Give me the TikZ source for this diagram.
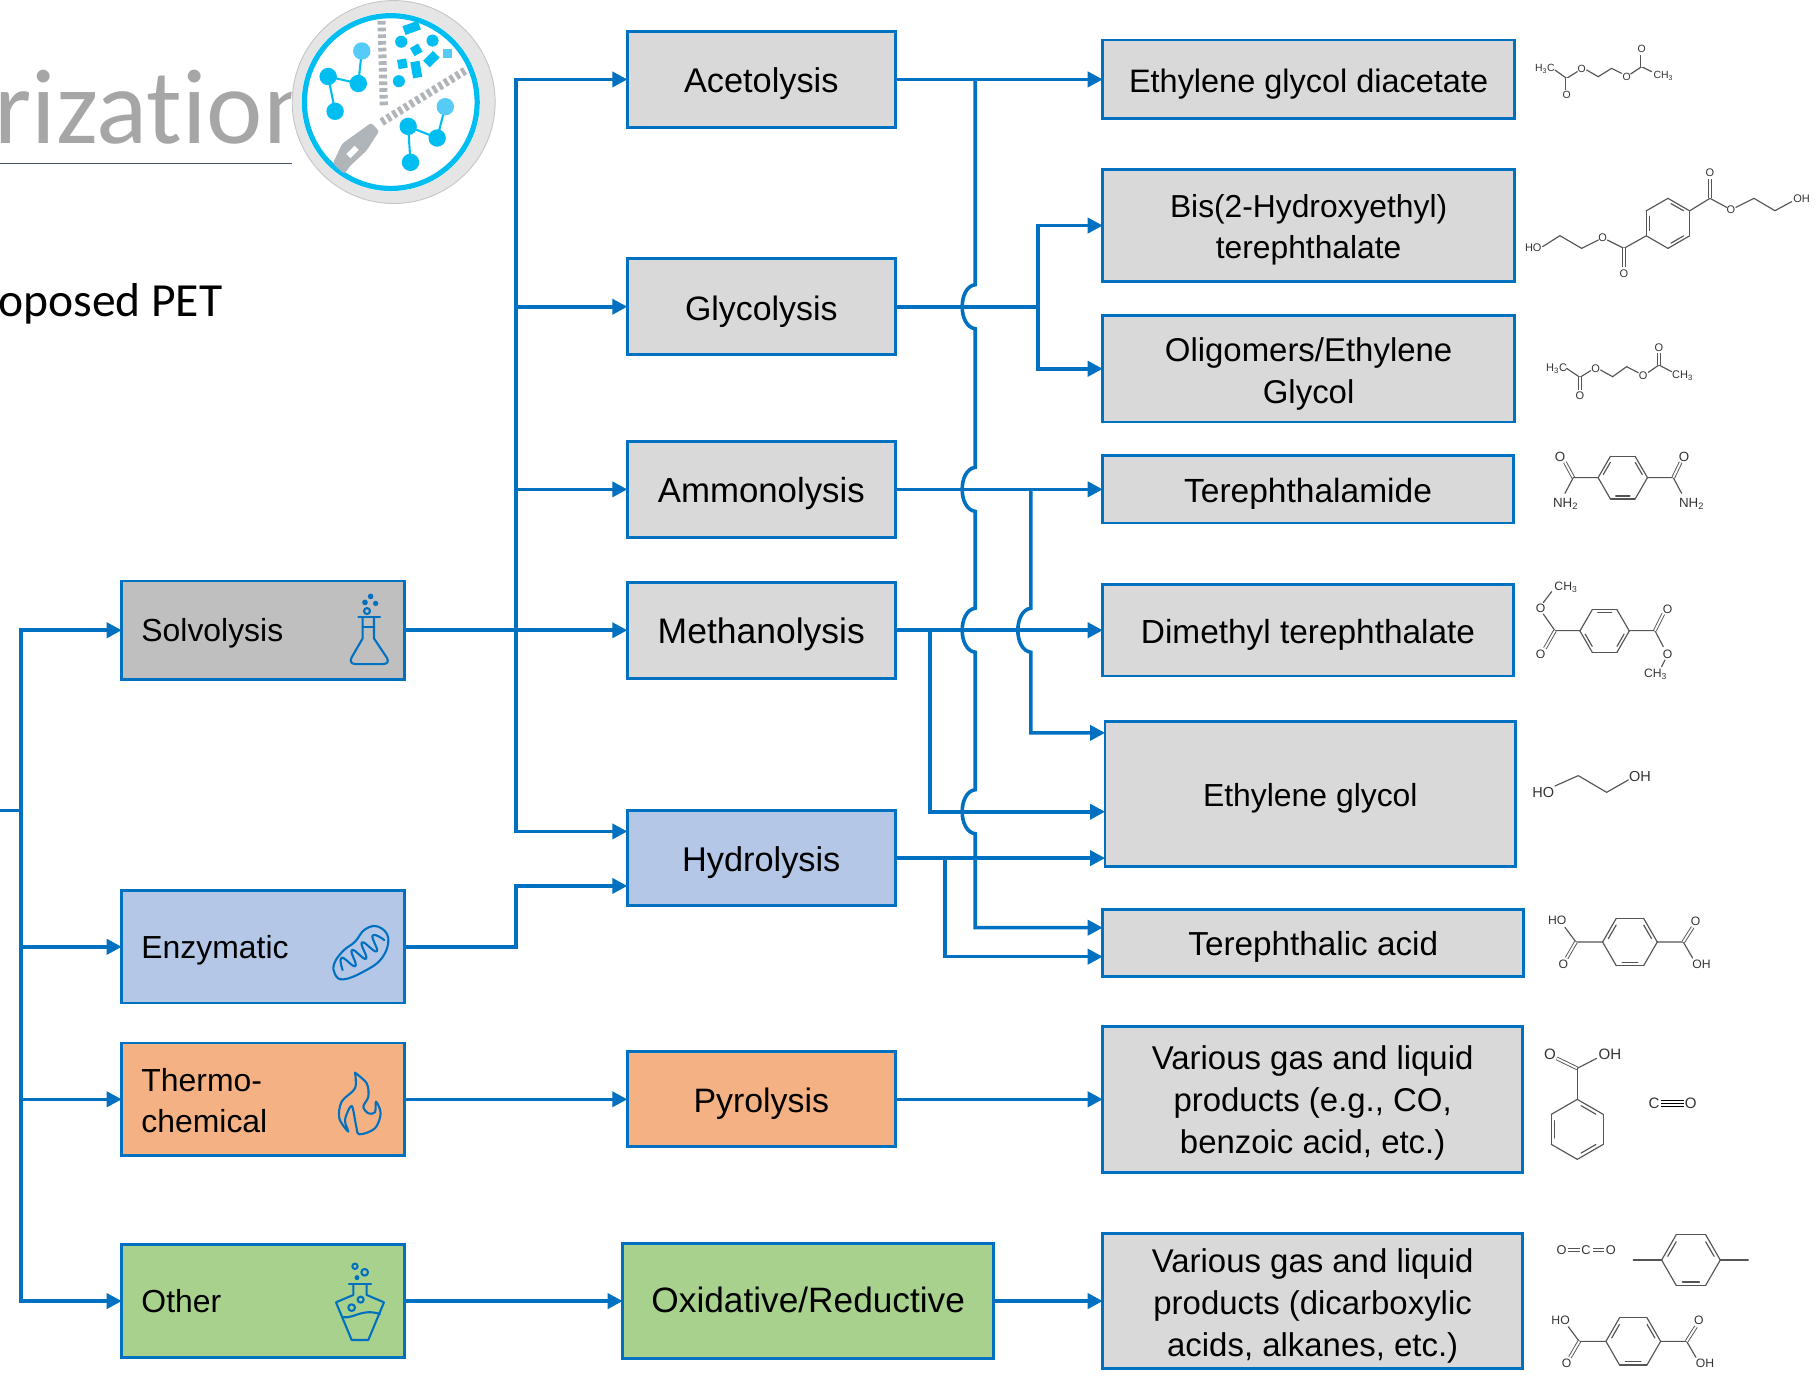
\documentclass[tikz,border=0pt]{standalone}
\usepackage{fontspec}
\setmainfont{Liberation Sans}
\newfontfamily\calibrif{Carlito}
\usetikzlibrary{arrows.meta,calc}
\definecolor{flowblue}{HTML}{0070C0}
\definecolor{boxgray}{HTML}{D9D9D9}
\definecolor{solvgray}{HTML}{BFBFBF}
\definecolor{enzblue}{HTML}{B4C7E7}
\definecolor{thermoor}{HTML}{F4B183}
\definecolor{othergr}{HTML}{A9D18E}
\definecolor{logocyan}{HTML}{00BEF2}
\definecolor{logolight}{HTML}{55CBF5}
\definecolor{zipgray}{HTML}{B0B5BA}
\definecolor{bondgray}{HTML}{555555}
\definecolor{slate}{HTML}{44546A}
\tikzset{
  box/.style={draw=flowblue,line width=2.4pt,fill=boxgray,inner sep=0pt,outer sep=0pt,align=center,
    font=\fontsize{28.4}{36}\selectfont,execute at begin node={\rule{0pt}{28pt}}},
  midbox/.style={box,font=\fontsize{29.6}{36}\selectfont,execute at begin node={\rule{0pt}{29pt}}},
  multibox/.style={box},
  leftbox/.style={draw=flowblue,line width=2.4pt,inner xsep=17pt,inner ysep=0pt,outer sep=0pt,
    text width=210pt,align=left,font=\fontsize{27.5}{36}\selectfont,execute at begin node={\rule{0pt}{25.5pt}}},
  flow/.style={draw=flowblue,line width=3.1pt,-{Triangle[length=13pt,width=13pt]}},
  trunk/.style={draw=flowblue,line width=3.1pt},
  icon/.style={draw=flowblue,line width=1.8pt,line join=round,line cap=round},
  bond/.style={draw=bondgray,line width=1pt,line cap=round},
  dbond/.style={draw=bondgray,line width=.8pt,double=white,double distance=1.6pt},
  chemtxt/.style={inner sep=0pt,outer sep=0pt,text=black!80},
  iconsc/.style={scale=.28746},
}
\newcount\chemcnt
\newcommand{\chem}[4]{\global\advance\chemcnt by 1\relax
  \node[chemtxt,font=\fontsize{#3}{#3}\selectfont] (chem\the\chemcnt) at (#1,#2) {#4};}
\newcommand{\hexring}[4]{%
  \foreach \k in {0,60,...,300}{\draw[bond] ({#1+#3*cos(#4+\k)},{#2+#3*sin(#4+\k)}) -- ({#1+#3*cos(#4+\k+60)},{#2+#3*sin(#4+\k+60)});}
  \foreach \k in {0,120,240}{\draw[bond] ({#1+.8*#3*cos(#4+\k+9)},{#2+.8*#3*sin(#4+\k+9)}) -- ({#1+.8*#3*cos(#4+\k+51)},{#2+.8*#3*sin(#4+\k+51)});}}
\newcommand{\hopat}[3]{-- (#1,#2-19) .. controls (#1-#3,#2-17) and (#1-#3,#2+17) .. (#1,#2+19)}
\newcommand{\tpa}[2]{%
  \begin{scope}[shift={(#1,#2)}]
    \chem{172}{122}{10.5}{HO}\chem{190}{252}{10.5}{O}\chem{587}{124}{10.5}{O}\chem{605}{253}{10.5}{OH}
    \draw[bond] (195,142) -- (228,186) -- (308,186);
    \draw[dbond] (228,186) -- (200,234);
    \hexring{390}{186}{82}{60}
    \draw[bond] (472,186) -- (550,186) -- (578,234);
    \draw[dbond] (550,186) -- (578,142);
  \end{scope}}
\begin{document}
\begin{tikzpicture}[x=1pt,y=-1pt]
\path[use as bounding box] (0,0) rectangle (1567.8,1186.6);
% heading
\node[inner sep=0pt,anchor=base west,text=black!35,font=\calibrif\fontsize{92}{92}\selectfont] (title) at (-5,124) {rizat\kern0pt ion};
\coordinate (ulA) at (0,141);\coordinate (ulB) at (252,141);
\draw[draw=slate,line width=1.7pt] (ulA) -- (ulB);
\node[inner sep=0pt,anchor=base east,font=\calibrif\fontsize{41}{41}\selectfont] (sub) at (192,273) {oposed PET};
% logo
\fill[white] (339,88) circle (88);
\draw[draw=black!22,fill=black!10,line width=.8pt] (339.5,88) circle (87.5);
\fill[white] (337,88) circle (77);
\draw[logocyan,line width=4.5pt] (337,88) circle (74.5);
\draw[zipgray,line width=7pt,dash pattern=on 3.2pt off 2.6pt] (329,18) -- (331,92);
\draw[zipgray,line width=7pt,dash pattern=on 3.2pt off 2.6pt] (401,61) -- (328,106);
\fill[zipgray,rounded corners=2pt] (320,106) -- (327,113) -- (316,130) -- (302,143) -- (297,150) -- (287,141) -- (295,124) -- cycle;
\fill[white,rotate around={45:(304,131)}] (299,128.5) rectangle (309,133.5);
\foreach \a/\b in {{(312,44)}/{(309,72)},{(283,66)}/{(309,72)},{(283,66)}/{(289,96)},{(384,92)}/{(377,119)},{(352,109)}/{(377,119)},{(352,109)}/{(354,140)}}{\draw[logocyan,line width=1.8pt] \a -- \b;}
\fill[logolight] (312,44) circle (7.5);
\fill[logocyan] (283,66) circle (7.5) (309,72) circle (7.5) (289,96) circle (7.5);
\fill[logolight] (384,92) circle (7.5);
\fill[logocyan] (352,109) circle (7.5) (377,119) circle (7.5) (354,140) circle (7.5);
\fill[logocyan] (346,36) circle (5.2) (373,35) circle (5.2) (344,70) circle (5.2);
\fill[logocyan,rotate around={20:(355,24)}] (348,20) rectangle (362,28);
\fill[logocyan,rotate around={30:(359,43)}] (355,39) rectangle (363,47);
\fill[logocyan,rotate around={45:(372,51)}] (366,47) rectangle (378,55);
\fill[logolight] (382,42) rectangle (390,50);
\fill[logocyan,rotate around={10:(347,55)}] (343,51) rectangle (351,59);
\fill[logocyan,rotate around={10:(359,60)}] (355,53) rectangle (363,67);
% left column
\node[leftbox,fill=solvgray,minimum height=85pt] (solv) at (227,543.5) {Solvolysis};
\node[leftbox,fill=enzblue,minimum height=97pt] (enz) at (227,816.5) {Enzymatic};
\node[leftbox,fill=thermoor,minimum height=97pt,text height=22pt] (therm) at (227,948) {Thermo-\\chemical};
\node[leftbox,fill=othergr,minimum height=97pt,text depth=5pt] (oth) at (227,1122) {Other};
% middle column
\node[midbox,minimum width=231pt,minimum height=83pt] (acet) at (656.5,68.5) {Acetolysis};
\node[midbox,minimum width=231pt,minimum height=83pt,font=\fontsize{29.2}{36}\selectfont] (glyc) at (656.5,264.5) {Glycolysis};
\node[midbox,minimum width=231pt,minimum height=83pt,font=\fontsize{30}{36}\selectfont] (ammo) at (656.5,422) {Ammonolysis};
\node[midbox,minimum width=231pt,minimum height=83pt,font=\fontsize{30.6}{36}\selectfont] (meth) at (656.5,543.5) {Methanolysis};
\node[midbox,fill=enzblue,minimum width=231pt,minimum height=82pt] (hydr) at (656.5,740) {Hydrolysis};
\node[midbox,fill=thermoor,minimum width=231pt,minimum height=82pt,font=\fontsize{29.2}{36}\selectfont] (pyro) at (656.5,948) {Pyrolysis};
\node[midbox,fill=othergr,minimum width=320pt,minimum height=99pt,font=\fontsize{30.4}{36}\selectfont,execute at begin node={\rule{0pt}{22pt}},text depth=10pt] (oxid) at (697,1122) {Oxidative/Reductive};
% right column
\node[box,minimum width=355pt,minimum height=68pt,font=\fontsize{28}{36}\selectfont] (egda) at (1128.5,68.5) {Ethylene glycol diacetate};
\node[multibox,minimum width=355pt,minimum height=97pt,font=\fontsize{27.4}{36}\selectfont,text height=63pt] (bhet) at (1128.5,194.5) {Bis(2-Hydroxyethyl)\\terephthalate};
\node[multibox,minimum width=355pt,minimum height=92pt,text height=66pt] (olig) at (1128.5,318) {Oligomers/Ethylene\\Glycol};
\node[box,minimum width=354pt,minimum height=58pt,font=\fontsize{28.9}{36}\selectfont] (tpam) at (1128,422) {Terephthalamide};
\node[box,minimum width=354pt,minimum height=79pt,font=\fontsize{28.8}{36}\selectfont] (dmt) at (1128,543.5) {Dimethyl terephthalate};
\node[box,minimum width=354pt,minimum height=125pt,font=\fontsize{27.5}{36}\selectfont] (eg) at (1130,684.5) {Ethylene glycol};
\node[box,minimum width=363pt,minimum height=58pt,font=\fontsize{28.7}{36}\selectfont] (tpa) at (1132.5,813) {Terephthalic acid};
\node[multibox,minimum width=362pt,minimum height=126pt,text height=99pt] (varA) at (1132,948) {Various gas and liquid\\products (e.g., CO,\\benzoic acid, etc.)};
\node[multibox,minimum width=362pt,minimum height=116pt,text height=101pt] (varB) at (1132,1122) {Various gas and liquid\\products (dicarboxylic\\acids, alkanes, etc.)};
% junctions
\coordinate (stubL) at (0,699);
\coordinate (mainT) at (18,699);
\coordinate (busS) at (445,543.5);
\coordinate (busE) at (445,816.5);
\coordinate (hydA) at (541,717);
\coordinate (hydB) at (541,764);
\coordinate (acetBus) at (841,68.5);
\coordinate (glycBus) at (895,264.5);
\coordinate (ammoBus) at (889,422);
\coordinate (methBus) at (802,543.5);
\coordinate (hydrBus) at (815,740);
\coordinate (egA) at (953,632);
\coordinate (egB) at (953,700);
\coordinate (egC) at (953,740);
\coordinate (tpaA) at (951,800);
\coordinate (tpaB) at (951,825);
% trunk on the left
\draw[trunk] (stubL) -- (mainT);
\draw[flow] (mainT) |- (solv.west);
\draw[flow] (mainT) |- (enz.west);
\draw[flow] (mainT) |- (therm.west);
\draw[flow] (mainT) |- (oth.west);
% to middle
\draw[flow] (solv.east) -- (meth.west);
\draw[flow] (busS) |- (acet.west);
\draw[flow] (busS) |- (glyc.west);
\draw[flow] (busS) |- (ammo.west);
\draw[flow] (busS) |- (hydA);
\draw[flow] (enz.east) -- (busE) |- (hydB);
\draw[flow] (therm.east) -- (pyro.west);
\draw[flow] (oth.east) -- (oxid.west);
% to right
\draw[flow] (acet.east) -- (egda.west);
\draw[flow] (glyc.east) -- (glycBus) |- (bhet.west);
\draw[flow] (glycBus) |- (olig.west);
\draw[flow] (ammo.east) -- (tpam.west);
\draw[flow] (meth.east) -- (dmt.west);
\draw[flow] (hydr.east) -- (egC);
\draw[flow] (hydrBus) |- (tpaB);
\draw[flow] (methBus) |- (egB);
\draw[flow] (pyro.east) -- (varA.west);
\draw[flow] (oxid.east) -- (varB.west);
% hopping lines
\draw[flow] (acetBus) \hopat{841}{264.5}{15} \hopat{841}{422}{15} \hopat{841}{543.5}{15} \hopat{841}{700}{15} |- (tpaA);
\draw[flow] (ammoBus) \hopat{889}{543.5}{15} |- (egA);
% icons
\begin{scope}[shift={(258.7,491.6)},iconsc]
  \fill[flowblue] (212,79) circle (8.5) (195,97) circle (8.5) (227,100) circle (8);
  \draw[icon] (201,123) circle (9);
  \draw[icon] (175,142) -- (240,142);
  \draw[icon] (188,142) -- (188,205) -- (155,262) .. controls (148,275) and (155,282) .. (168,282) -- (248,282) .. controls (262,282) and (268,275) .. (260,262) -- (222,205) -- (222,142);
  \draw[icon] (188,172) -- (222,172);
  \draw[icon] plot[smooth cycle,tension=.7] coordinates {(103,1180) (130,1142) (165,1115) (195,1078) (235,1070) (265,1105) (245,1165) (190,1205) (130,1228) (105,1212)};
  \draw[icon] plot[smooth,tension=.9] coordinates {(128,1200) (125,1163) (166,1188) (156,1140) (198,1166) (186,1117) (230,1144) (218,1096) (253,1110)};
\end{scope}
\begin{scope}[shift={(258.7,888.2)},iconsc]
  \draw[icon] plot[smooth,tension=.55] coordinates {(165,128) (200,160) (205,200) (190,230) (205,250) (225,247) (228,215) (242,250) (225,295) (178,313) (168,285) (155,228) (135,270) (145,305) (118,265) (125,215) (165,175) (165,128)};
  \draw[icon] (165,709) circle (8) (194,727) circle (10);
  \fill[flowblue] (171,743) circle (7.5);
  \draw[icon] (147,763) -- (213,763);
  \draw[icon] (160,763) -- (160,795) -- (108,817) -- (155,930) -- (205,930) -- (252,817) -- (200,795) -- (200,763);
  \draw[icon] (130,862) .. controls (165,865) and (185,835) .. (240,852);
  \draw[icon] (155,833) circle (10) (182,809) circle (9);
\end{scope}
% molecules, top block
\begin{scope}[shift={(1293.5,17.25)},iconsc]
  \chem{135}{147}{9}{H\textsubscript{3}C}\chem{200}{226}{9}{O}\chem{245}{147}{9}{O}\chem{380}{170}{9}{O}\chem{425}{87}{9}{O}\chem{490}{168}{9}{CH\textsubscript{3}}
  \draw[bond] (165,150) -- (200,175) -- (232,155);
  \draw[dbond] (200,175) -- (200,210);
  \draw[bond] (260,150) -- (295,170) -- (335,145) -- (365,160);
  \draw[bond] (392,162) -- (425,140) -- (455,155);
  \draw[dbond] (425,140) -- (425,105);
  \chem{100}{684}{9.5}{HO}\chem{308}{652}{9.5}{O}\chem{372}{760}{9.5}{O}\chem{630}{458}{9.5}{O}\chem{693}{570}{9.5}{O}\chem{905}{535}{9.5}{OH}
  \draw[bond] (128,680) -- (180,647) -- (245,685) -- (295,660);
  \draw[bond] (322,660) -- (372,685) -- (438,648);
  \draw[dbond] (372,685) -- (372,740);
  \hexring{504}{610}{75}{30}
  \draw[bond] (570,572) -- (630,535) -- (680,562);
  \draw[dbond] (630,535) -- (630,478);
  \draw[bond] (708,562) -- (762,535) -- (825,572) -- (875,545);
  \chem{170}{1047}{9.5}{H\textsubscript{3}C}\chem{240}{1128}{9.5}{O}\chem{287}{1045}{9.5}{O}\chem{430}{1067}{9.5}{O}\chem{477}{982}{9.5}{O}\chem{548}{1068}{9.5}{CH\textsubscript{3}}
  \draw[bond] (200,1045) -- (240,1072) -- (272,1052);
  \draw[dbond] (240,1072) -- (240,1110);
  \draw[bond] (302,1050) -- (338,1070) -- (380,1040) -- (415,1058);
  \draw[bond] (445,1057) -- (477,1035) -- (515,1055);
  \draw[dbond] (477,1035) -- (477,1000);
\end{scope}
% molecules, middle block
\begin{scope}[shift={(1293.5,370.8)},iconsc]
  \chem{180}{80}{11.5}{O}\chem{197}{222}{11.5}{NH\textsubscript{2}}\chem{552}{80}{11.5}{O}\chem{575}{222}{11.5}{NH\textsubscript{2}}
  \draw[dbond] (195,97) -- (220,143);
  \draw[bond] (195,190) -- (220,143) -- (295,143);
  \hexring{368.5}{143}{74}{60}
  \draw[bond] (442,143) -- (520,143) -- (545,190);
  \draw[dbond] (520,143) -- (542,97);
  \chem{198}{472}{10.5}{CH\textsubscript{3}}\chem{122}{535}{10.5}{O}\chem{122}{672}{10.5}{O}\chem{503}{537}{10.5}{O}\chem{503}{672}{10.5}{O}\chem{467}{733}{10.5}{CH\textsubscript{3}}
  \draw[bond] (130,518) -- (155,485);
  \draw[bond] (130,552) -- (165,602) -- (240,602);
  \draw[dbond] (165,602) -- (135,655);
  \hexring{314}{603}{74}{0}
  \draw[bond] (388,602) -- (465,602) -- (490,650);
  \draw[dbond] (465,602) -- (490,552);
  \draw[bond] (495,690) -- (485,710);
  \chem{130}{1088}{12.5}{HO}\chem{420}{1040}{12.5}{OH}
  \draw[bond] (165,1068) -- (235,1037) -- (320,1087) -- (385,1050);
\end{scope}
% molecules, bottom block
\begin{scope}[shift={(1293.5,758.9)},iconsc]
  \tpa{0}{0}
  \chem{150}{522}{13}{O}\chem{330}{522}{13}{OH}
  \draw[dbond] (170,535) -- (232,565);
  \draw[bond] (232,565) -- (290,535);
  \draw[bond] (232,565) -- (232,658);
  \hexring{232}{748}{90}{30}
  \chem{462}{670}{13}{C}\chem{572}{670}{13}{O}
  \draw[black,line width=.8pt] (482,660) -- (553,660) (482,670) -- (553,670) (482,680) -- (553,680);
  \chem{185}{1110}{11}{O}\chem{258}{1110}{11}{C}\chem{333}{1110}{11}{O}
  \draw[dbond] (205,1110) -- (240,1110);
  \draw[dbond] (280,1110) -- (312,1110);
  \draw[bond] (400,1140) -- (485,1140);
  \hexring{573}{1140}{88}{60}
  \draw[bond] (661,1140) -- (745,1140);
  \tpa{10}{1198}
\end{scope}
\end{tikzpicture}
\end{document}
